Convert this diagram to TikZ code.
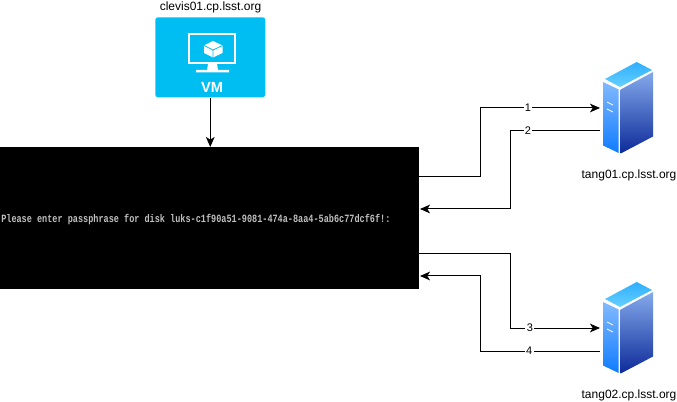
\documentclass[tikz,border=0pt]{standalone}
\usepackage{fontspec}
\setmainfont{Liberation Sans}
\setmonofont{Liberation Mono}
\usetikzlibrary{arrows.meta}
\definecolor{vmblue}{HTML}{00BEF2}
\definecolor{roofa}{HTML}{2FAEFF}
\definecolor{roofb}{HTML}{66D0FF}
\definecolor{fronta}{HTML}{83B9FF}
\definecolor{frontb}{HTML}{0F7CFF}
\definecolor{sidea}{HTML}{84AAEB}
\definecolor{sideb}{HTML}{0D2A9A}
\tikzset{
  link/.style={draw=black,line width=0.75pt,-{Stealth[length=7.5pt,width=6.5pt,inset=2pt]}},
  linklabel/.style={fill=white,inner sep=1pt,font=\fontsize{8.25pt}{10pt}\selectfont},
  hostlabel/.style={inner sep=0pt,font=\fontsize{9pt}{11pt}\selectfont},
}
\begin{document}
\begin{tikzpicture}[x=0.75pt,y=0.75pt,yscale=-1,xscale=1]
\useasboundingbox (0,0) rectangle (677,402);
%Console
\node (console) [anchor=north west,fill=black,inner sep=0pt,minimum width=314.25pt,minimum height=106.5pt] at (0,147) {};
\node (prompt) [anchor=west,inner sep=0pt,text=black!25,font=\ttfamily\bfseries\fontsize{6.4pt}{8pt}\selectfont] at (1,220) {\scalebox{1}[1.3]{Please enter passphrase for disk luks-c1f90a51-9081-474a-8aa4-5ab6c77dcf6f!:}};
%VM
\node (vm) [anchor=north west,fill=vmblue,rounded corners=2pt,inner sep=0pt,minimum width=82.5pt,minimum height=60pt] at (155,17) {};
\draw [white,line width=1.5pt] (189,34) rectangle (235,63);
\fill [white] (208,64) -- (217,64) -- (218,70) -- (229,70) -- (229,72.5) -- (196,72.5) -- (196,70) -- (207,70) -- cycle;
\fill [white] (213,41) -- (222.5,45.5) -- (222.5,53) -- (213,57.5) -- (204,53) -- (204,45.5) -- cycle;
\draw [vmblue,line width=0.6pt] (204,45.5) -- (213,50) -- (222.5,45.5) (213,50) -- (213,57.5);
\node (vmlabel) [inner sep=0pt,text=white,font=\bfseries\fontsize{11pt}{13pt}\selectfont] at (212,87) {VM};
\node (clevis) [hostlabel] at (210.5,7) {clevis01.cp.lsst.org};
\draw [link] (vm) -- (vm.south |- console.north);
%Servers
\foreach \hostname/\dy in {tang01/0,tang02/220}{
  \begin{scope}[shift={(0,\dy)}]
    \shade [top color=roofa,bottom color=roofb] (605,79) -- (636.7,62) -- (652,70) -- (620,87) -- cycle;
    \shade [top color=fronta,bottom color=frontb] (603,82) -- (618.7,89.5) -- (618.7,153) -- (603,145.5) -- cycle;
    \shade [top color=sidea,bottom color=sideb] (620.7,89.5) -- (653,72) -- (653,136.5) -- (620.7,153.5) -- cycle;
    \draw [white,line width=0.6pt] (607,102) -- (613,105) (607,109) -- (613,112);
    \node (\hostname) [hostlabel] at (629,175) {\hostname.cp.lsst.org};
  \end{scope}
}
%Connectors
\coordinate (c1) at (419,177);
\coordinate (c2) at (420,209);
\coordinate (c3) at (419,254);
\coordinate (c4) at (420,276);
\coordinate (b1) at (480,108);
\coordinate (b2) at (510,131);
\coordinate (b3) at (510,328);
\coordinate (b4) at (480,351);
\coordinate (t1in) at (600,108);
\coordinate (t1out) at (600,131);
\coordinate (t2in) at (600,328);
\coordinate (t2out) at (600,351);
\draw [link] (c1) -| (b1) -- node (one) [linklabel,pos=0.4] {1} (t1in);
\draw [link,-] (t1out) -- node (two) [linklabel,pos=0.8] {2} (b2);
\draw [link] (b2) |- (c2);
\draw [link] (c3) -| (b3) -- node (three) [linklabel,pos=0.22] {3} (t2in);
\draw [link,-] (t2out) -- node (four) [linklabel,pos=0.59] {4} (b4);
\draw [link] (b4) |- (c4);
\end{tikzpicture}
\end{document}
